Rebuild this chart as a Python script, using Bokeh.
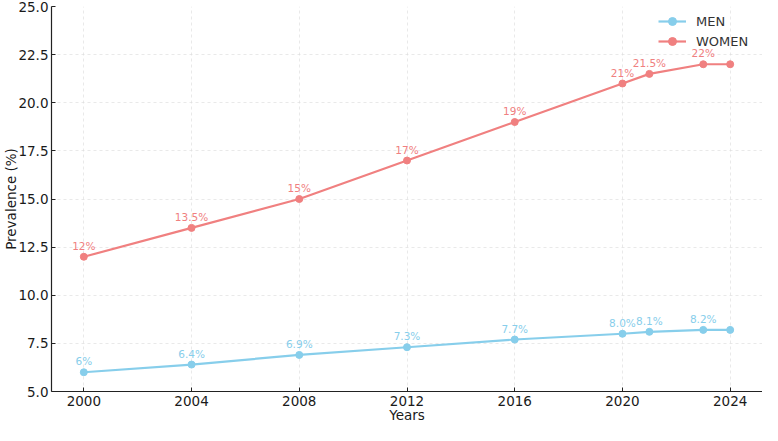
from bokeh.plotting import figure
from bokeh.models import ColumnDataSource, Range1d, FixedTicker, Legend, LegendItem, NumeralTickFormatter
from bokeh.core.properties import value
from bokeh.embed import file_html
from bokeh.resources import INLINE

years = [2000, 2004, 2008, 2012, 2016, 2020, 2021, 2023, 2024]
men = [6.0, 6.4, 6.9, 7.3, 7.7, 8.0, 8.1, 8.2, 8.2]
women = [12.0, 13.5, 15.0, 17.0, 19.0, 21.0, 21.5, 22.0, 22.0]
men_labels = ["6%", "6.4%", "6.9%", "7.3%", "7.7%", "8.0%", "8.1%", "8.2%", ""]
women_labels = ["12%", "13.5%", "15%", "17%", "19%", "21%", "21.5%", "22%", ""]
x_ticks = [2000, 2004, 2008, 2012, 2016, 2020, 2024]
y_ticks = [5.0, 7.5, 10.0, 12.5, 15.0, 17.5, 20.0, 22.5, 25.0]

MEN_C = "#87CEEB"
WOMEN_C = "#F08080"
FONT = "DejaVu Sans"

p = figure(width=762, height=425, output_backend="svg", toolbar_location=None,
           x_range=Range1d(1998.8, 2025.2), y_range=Range1d(5, 25),
           min_border_left=0, min_border_right=0, min_border_top=6, min_border_bottom=0)
p.outline_line_color = None
p.background_fill_color = "white"
p.border_fill_color = "white"

for ax in (p.xaxis[0], p.yaxis[0]):
    ax.axis_line_color = "#222222"
    ax.axis_line_width = 1.2
    ax.major_tick_in = 4
    ax.major_tick_out = 0
    ax.minor_tick_line_color = None
    ax.major_tick_line_color = "#222222"
    ax.major_label_text_font = FONT
    ax.major_label_text_font_size = "13.5px"
    ax.major_label_text_color = "#1a1a1a"
    ax.axis_label_text_font = FONT
    ax.axis_label_text_font_size = "13.5px"
    ax.axis_label_text_font_style = "normal"
    ax.axis_label_text_color = "#1a1a1a"

p.xaxis.ticker = FixedTicker(ticks=x_ticks)
p.yaxis.ticker = FixedTicker(ticks=y_ticks)
p.yaxis.formatter = NumeralTickFormatter(format="0.0")
p.xaxis.axis_label = "Years"
p.yaxis.axis_label = "Prevalence (%)"
p.xaxis.axis_label_standoff = -2
p.yaxis.axis_label_standoff = -4
p.xaxis.major_label_standoff = 4
p.yaxis.major_label_standoff = 3

for g in (p.xgrid[0], p.ygrid[0]):
    g.grid_line_color = "#dcdcdc"
    g.grid_line_dash = "3 3"
    g.grid_line_width = 0.8
    g.grid_line_alpha = 0.8

src_m = ColumnDataSource(dict(x=years, y=men, lab=men_labels))
src_w = ColumnDataSource(dict(x=years, y=women, lab=women_labels))

lm = p.line("x", "y", source=src_m, line_color=MEN_C, line_width=2.2)
cm = p.scatter("x", "y", source=src_m, size=7, fill_color=MEN_C, line_color=MEN_C)
lw = p.line("x", "y", source=src_w, line_color=WOMEN_C, line_width=2.2)
cw = p.scatter("x", "y", source=src_w, size=7, fill_color=WOMEN_C, line_color=WOMEN_C)

p.text("x", "y", text="lab", source=src_m, text_align="center", text_baseline="bottom",
       y_offset=-5, text_font=value(FONT), text_font_size="10.5px", text_color=MEN_C)
p.text("x", "y", text="lab", source=src_w, text_align="center", text_baseline="bottom",
       y_offset=-5, text_font=value(FONT), text_font_size="10.5px", text_color=WOMEN_C)

legend = Legend(items=[LegendItem(label="MEN", renderers=[lm, cm]),
                       LegendItem(label="WOMEN", renderers=[lw, cw])],
                location=(607, 340))
legend.background_fill_alpha = 0
legend.border_line_color = None
legend.label_text_font = FONT
legend.label_text_font_size = "13px"
legend.label_text_color = "#333333"
legend.glyph_width = 28
legend.label_standoff = 10
legend.spacing = 0
legend.margin = 0
legend.padding = 2
p.add_layout(legend)

open("out.html", "w").write(file_html(p, INLINE))
